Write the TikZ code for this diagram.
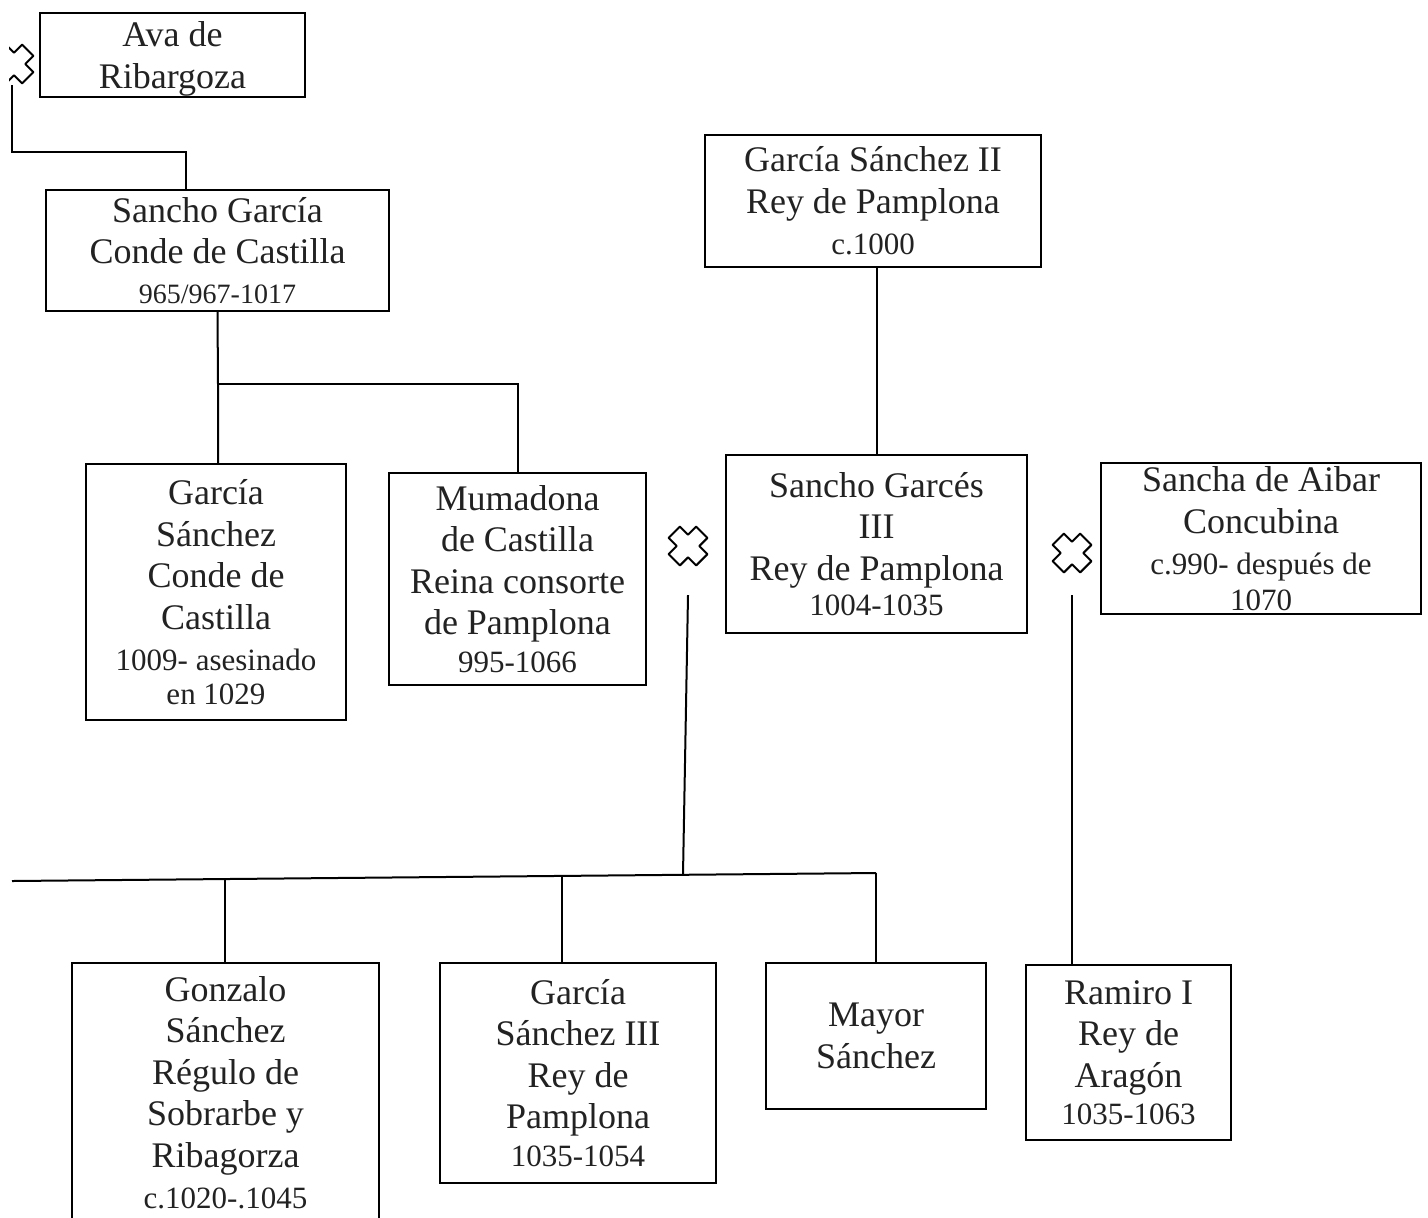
\documentclass[tikz,border=0pt]{standalone}
\usepackage{fontspec}
\setmainfont{Liberation Serif}
\newcommand\bigtxt{\fontsize{18}{20.75}\selectfont}
\newcommand\smtxt{\fontsize{15.5}{17}\selectfont}
\newcommand\tinytxt{\fontsize{14}{17}\selectfont}
\definecolor{ink}{HTML}{222222}
\tikzset{
  person/.style={draw, line width=1pt, inner sep=0pt, align=center,
    text=ink, font=\bigtxt},
  link/.style={line width=1pt},
  wed/.pic={\draw[line width=1pt, line join=round, rotate=45]
    (8,8)--(8,19.5)--(-8,19.5)--(-8,8)--(-19.5,8)--(-19.5,-8)--(-8,-8)--(-8,-19.5)
    --(8,-19.5)--(8,-8)--(19.5,-8)--(19.5,8)--cycle;}
}
\begin{document}
\begin{tikzpicture}[x=0.5pt, y=-0.5pt]
\useasboundingbox (0,0) rectangle (1428,1217);

% ---- people ----
\node[person, minimum width=132.5pt, minimum height=42pt] (ava) at (172.5,55)
  {\rule{0pt}{16.5pt}Ava de\\Ribargoza};
\node[person, minimum width=171.5pt, minimum height=60.5pt] (sg) at (217.5,250.5)
  {Sancho García\\Conde de Castilla\\[-1pt]{\tinytxt 965/967-1017}};
\node[person, minimum width=168pt, minimum height=66pt] (gs2) at (873,201)
  {García Sánchez II\\Rey de Pamplona\\{\smtxt c.1000}};
\node[person, minimum width=130pt, minimum height=128pt] (gs) at (216,592)
  {García\\Sánchez\\Conde de\\Castilla\\{\smtxt 1009- asesinado}\\[-4pt]{\smtxt en 1029}};
\node[person, minimum width=128.5pt, minimum height=106pt] (mum) at (517.5,579)
  {Mumadona\\de Castilla\\Reina consorte\\de Pamplona\\[-2pt]{\smtxt 995-1066}};
\node[person, minimum width=150.5pt, minimum height=89pt] (sg3) at (876.5,544)
  {Sancho Garcés\\III\\Rey de Pamplona\\[-3pt]{\smtxt 1004-1035}};
\node[person, minimum width=160pt, minimum height=75.5pt] (sa) at (1261,538.5)
  {Sancha de Aibar\\Concubina\\{\smtxt c.990- después de}\\[-3pt]{\smtxt 1070}};
\node[person, minimum width=153.5pt, minimum height=129.5pt] (gon) at (225.5,1092.5)
  {Gonzalo\\Sánchez\\Régulo de\\Sobrarbe y\\Ribagorza\\{\smtxt c.1020-.1045}};
\node[person, minimum width=138pt, minimum height=110pt] (g3) at (578,1073)
  {García\\Sánchez III\\Rey de\\Pamplona\\[-2pt]{\smtxt 1035-1054}};
\node[person, minimum width=110pt, minimum height=73pt] (may) at (876,1036)
  {Mayor\\Sánchez};
\node[person, minimum width=102.5pt, minimum height=87.5pt] (ram) at (1128.5,1052.5)
  {Ramiro I\\Rey de\\Aragón\\[-2pt]{\smtxt 1035-1063}};

% ---- marriage marks ----
\coordinate (w0) at (14,64);
\coordinate (w1) at (688,546);
\coordinate (w2) at (1072,553);
\begin{scope}
  \clip (9,0) rectangle (40,120);
  \pic at (w0) {wed};
\end{scope}
\pic at (w1) {wed};
\pic at (w2) {wed};

% ---- line of descent: Ava ----
\coordinate (w0d) at (12,85);
\coordinate (j0) at (186,152);
\draw[link] (w0d) |- (j0) -- (j0 |- sg.north);

% ---- children of Sancho García ----
\coordinate (j1) at (218,384);
\draw[link] (sg.south) -- (j1) -- (j1 |- gs.north);
\draw[link] (j1) -| (mum.north);

% ---- García Sánchez II to Sancho Garcés III ----
\draw[link] (sg3.north) -- (sg3.north |- gs2.south);

% ---- children of Sancho Garcés III and Mumadona ----
\coordinate (w1d) at (688,595);
\coordinate (j2) at (683,874.5);
\coordinate (j2l) at (12,881);
\coordinate (j2r) at (876,873);
\draw[link] (w1d) -- (j2);
\draw[link] (j2l) -- (j2r);
\coordinate (d1) at (225,879);
\coordinate (d2) at (562,876);
\draw[link] (d1) -- (d1 |- gon.north);
\draw[link] (d2) -- (d2 |- g3.north);
\draw[link] (j2r) -- (j2r |- may.north);

% ---- child of Sancho Garcés III and Sancha de Aibar ----
\coordinate (w2d) at (1072,595);
\draw[link] (w2d) -- (w2d |- ram.north);
\end{tikzpicture}
\end{document}
